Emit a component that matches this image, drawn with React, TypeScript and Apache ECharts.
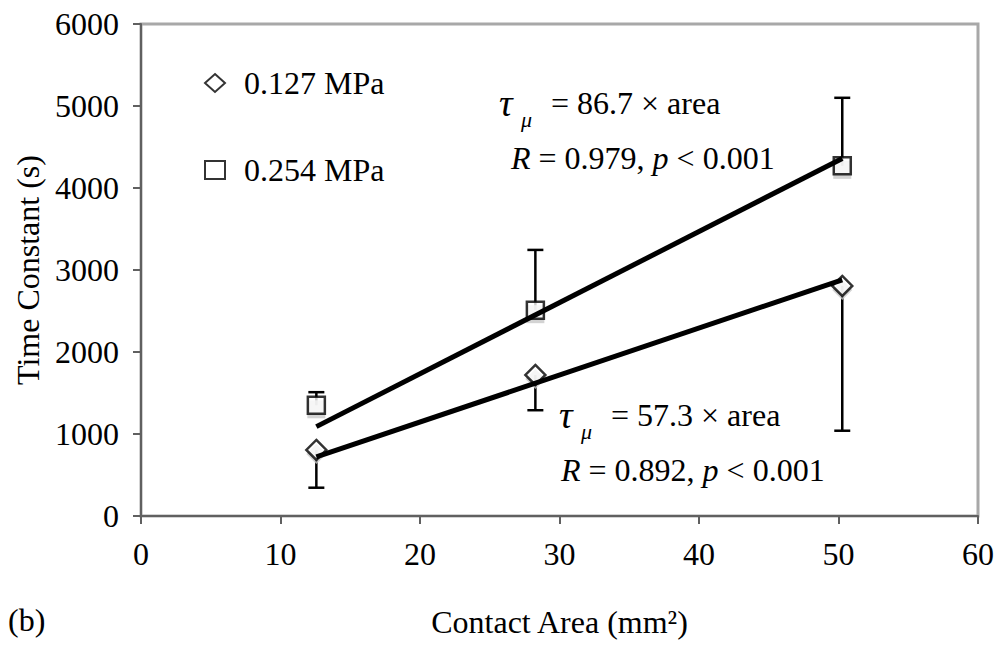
import React, { useEffect, useRef } from "react";
import * as echarts from "echarts";

const xTicks = [0, 10, 20, 30, 40, 50, 60];
const areas = [12.57, 28.27, 50.27];
const low = [805, 1720, 2805]; // 0.127 MPa
const high = [1350, 2510, 4270]; // 0.254 MPa
const lowErrEnd = [345, 1290, 1040]; // lower error bars
const highErrEnd = [1510, 3245, 5100]; // upper error bars
const fitLow = [[12.57, 720], [50.27, 2880]];
const fitHigh = [[12.57, 1090], [50.27, 4360]];

const FONT = "Liberation Serif";

export default function App() {
  const ref = useRef<HTMLDivElement>(null);
  useEffect(() => {
    const chart = echarts.init(ref.current!, null, { renderer: "svg" });
    const lowPts = areas.map((x, i) => [x, low[i]]);
    const highPts = areas.map((x, i) => [x, high[i]]);
    const lowErr = areas.map((x, i) => [x, low[i], lowErrEnd[i]]);
    const highErr = areas.map((x, i) => [x, high[i], highErrEnd[i]]);
    const errRender = (params: any, api: any) => {
      const x = api.value(0);
      const p1 = api.coord([x, api.value(1)]);
      const p2 = api.coord([x, api.value(2)]);
      const st = { stroke: "#000", lineWidth: 2.5 };
      return {
        type: "group",
        children: [
          { type: "line", shape: { x1: p1[0], y1: p1[1], x2: p2[0], y2: p2[1] }, style: st },
          { type: "line", shape: { x1: p2[0] - 8, y1: p2[1], x2: p2[0] + 8, y2: p2[1] }, style: st },
        ],
      };
    };
    const mk = { color: "#fff", borderColor: "#000", borderWidth: 2.5 };
    const txt = (extra: any) => ({ fill: "#000", fontFamily: FONT, fontSize: 32, verticalAlign: "middle", ...extra });
    chart.setOption({
      animation: false,
      backgroundColor: "#fff",
      textStyle: { fontFamily: FONT },
      grid: {
        left: 141, right: 23, top: 24, bottom: 129,
        show: true, borderColor: "#a8a8a8", borderWidth: 3, backgroundColor: "transparent",
      },
      xAxis: {
        type: "value", min: 0, max: 60, interval: 10,
        name: "Contact Area (mm²)", nameLocation: "middle", nameGap: 90,
        nameTextStyle: { fontSize: 32, color: "#000", fontFamily: FONT },
        axisLine: { show: true, lineStyle: { color: "#606060", width: 2 } },
        axisTick: { show: true, inside: false, length: 8, lineStyle: { color: "#606060", width: 2 } },
        axisLabel: { fontSize: 32, color: "#000", margin: 22, fontFamily: FONT,
          formatter: (v: number) => (xTicks.includes(v) ? String(v) : "") },
        splitLine: { show: false },
      },
      yAxis: {
        type: "value", min: 0, max: 6000, interval: 1000,
        name: "Time Constant (s)", nameLocation: "middle", nameGap: 94,
        nameTextStyle: { fontSize: 32, color: "#000000", fontFamily: FONT },
        axisLine: { show: true, lineStyle: { color: "#606060", width: 2 } },
        axisTick: { show: true, inside: false, length: 8, lineStyle: { color: "#606060", width: 2 } },
        axisLabel: { fontSize: 32, color: "#000", margin: 22, fontFamily: FONT,
          formatter: (v: number) => String(v) },
        splitLine: { show: false },
      },
      legend: {
        data: ["0.127 MPa", "0.254 MPa"],
        orient: "vertical", left: 199, top: 62, itemGap: 55,
        itemWidth: 20, itemHeight: 18,
        textStyle: { fontSize: 32, color: "#000", fontFamily: FONT, padding: [0, 0, 0, 14] },
      },
      series: [
        { type: "custom", name: "err127", renderItem: errRender, data: lowErr, z: 1, silent: true },
        { type: "custom", name: "err254", renderItem: errRender, data: highErr, z: 1, silent: true },
        { type: "scatter", name: "sh127", data: lowPts, symbol: "diamond", symbolSize: [20, 20],
          symbolOffset: [0, 4], itemStyle: { color: "#c8c8c8" }, z: 2, silent: true },
        { type: "scatter", name: "sh254", data: highPts, symbol: "rect", symbolSize: [18, 18],
          symbolOffset: [0, 4], itemStyle: { color: "#c8c8c8" }, z: 2, silent: true },
        { type: "scatter", name: "0.127 MPa", data: lowPts, symbol: "diamond", symbolSize: [20, 20],
          itemStyle: mk, z: 3 },
        { type: "scatter", name: "0.254 MPa", data: highPts, symbol: "rect", symbolSize: [17, 17],
          itemStyle: mk, z: 3 },
        { type: "line", name: "fit127", data: fitLow, symbol: "none", lineStyle: { color: "#000", width: 5 }, z: 4, silent: true },
        { type: "line", name: "fit254", data: fitHigh, symbol: "none", lineStyle: { color: "#000", width: 5 }, z: 4, silent: true },
      ],
      graphic: [
        { type: "text", left: 8, top: 604, style: txt({ text: "(b)", verticalAlign: "top" }) },
        { type: "text", x: 499, y: 103, style: txt({ text: "τ", fontSize: 38, fontStyle: "italic" }) },
        { type: "text", x: 521, y: 119, style: txt({ text: "μ", fontSize: 22, fontStyle: "italic" }) },
        { type: "text", x: 551, y: 103, style: txt({ text: "= 86.7 × area" }) },
        { type: "text", x: 511, y: 158, style: txt({
            text: "{i|R} = 0.979, {i|p} < 0.001",
            rich: { i: { fontStyle: "italic", fontSize: 32, fontFamily: FONT, fill: "#000" } } }) },
        { type: "text", x: 559, y: 415, style: txt({ text: "τ", fontSize: 38, fontStyle: "italic" }) },
        { type: "text", x: 581, y: 431, style: txt({ text: "μ", fontSize: 22, fontStyle: "italic" }) },
        { type: "text", x: 611, y: 415, style: txt({ text: "= 57.3 × area" }) },
        { type: "text", x: 561, y: 470, style: txt({
            text: "{i|R} = 0.892, {i|p} < 0.001",
            rich: { i: { fontStyle: "italic", fontSize: 32, fontFamily: FONT, fill: "#000" } } }) },
      ],
    });
    return () => chart.dispose();
  }, []);
  return <div ref={ref} style={{ position: "fixed", left: 0, top: 0, width: 1001, height: 645 }} />;
}
